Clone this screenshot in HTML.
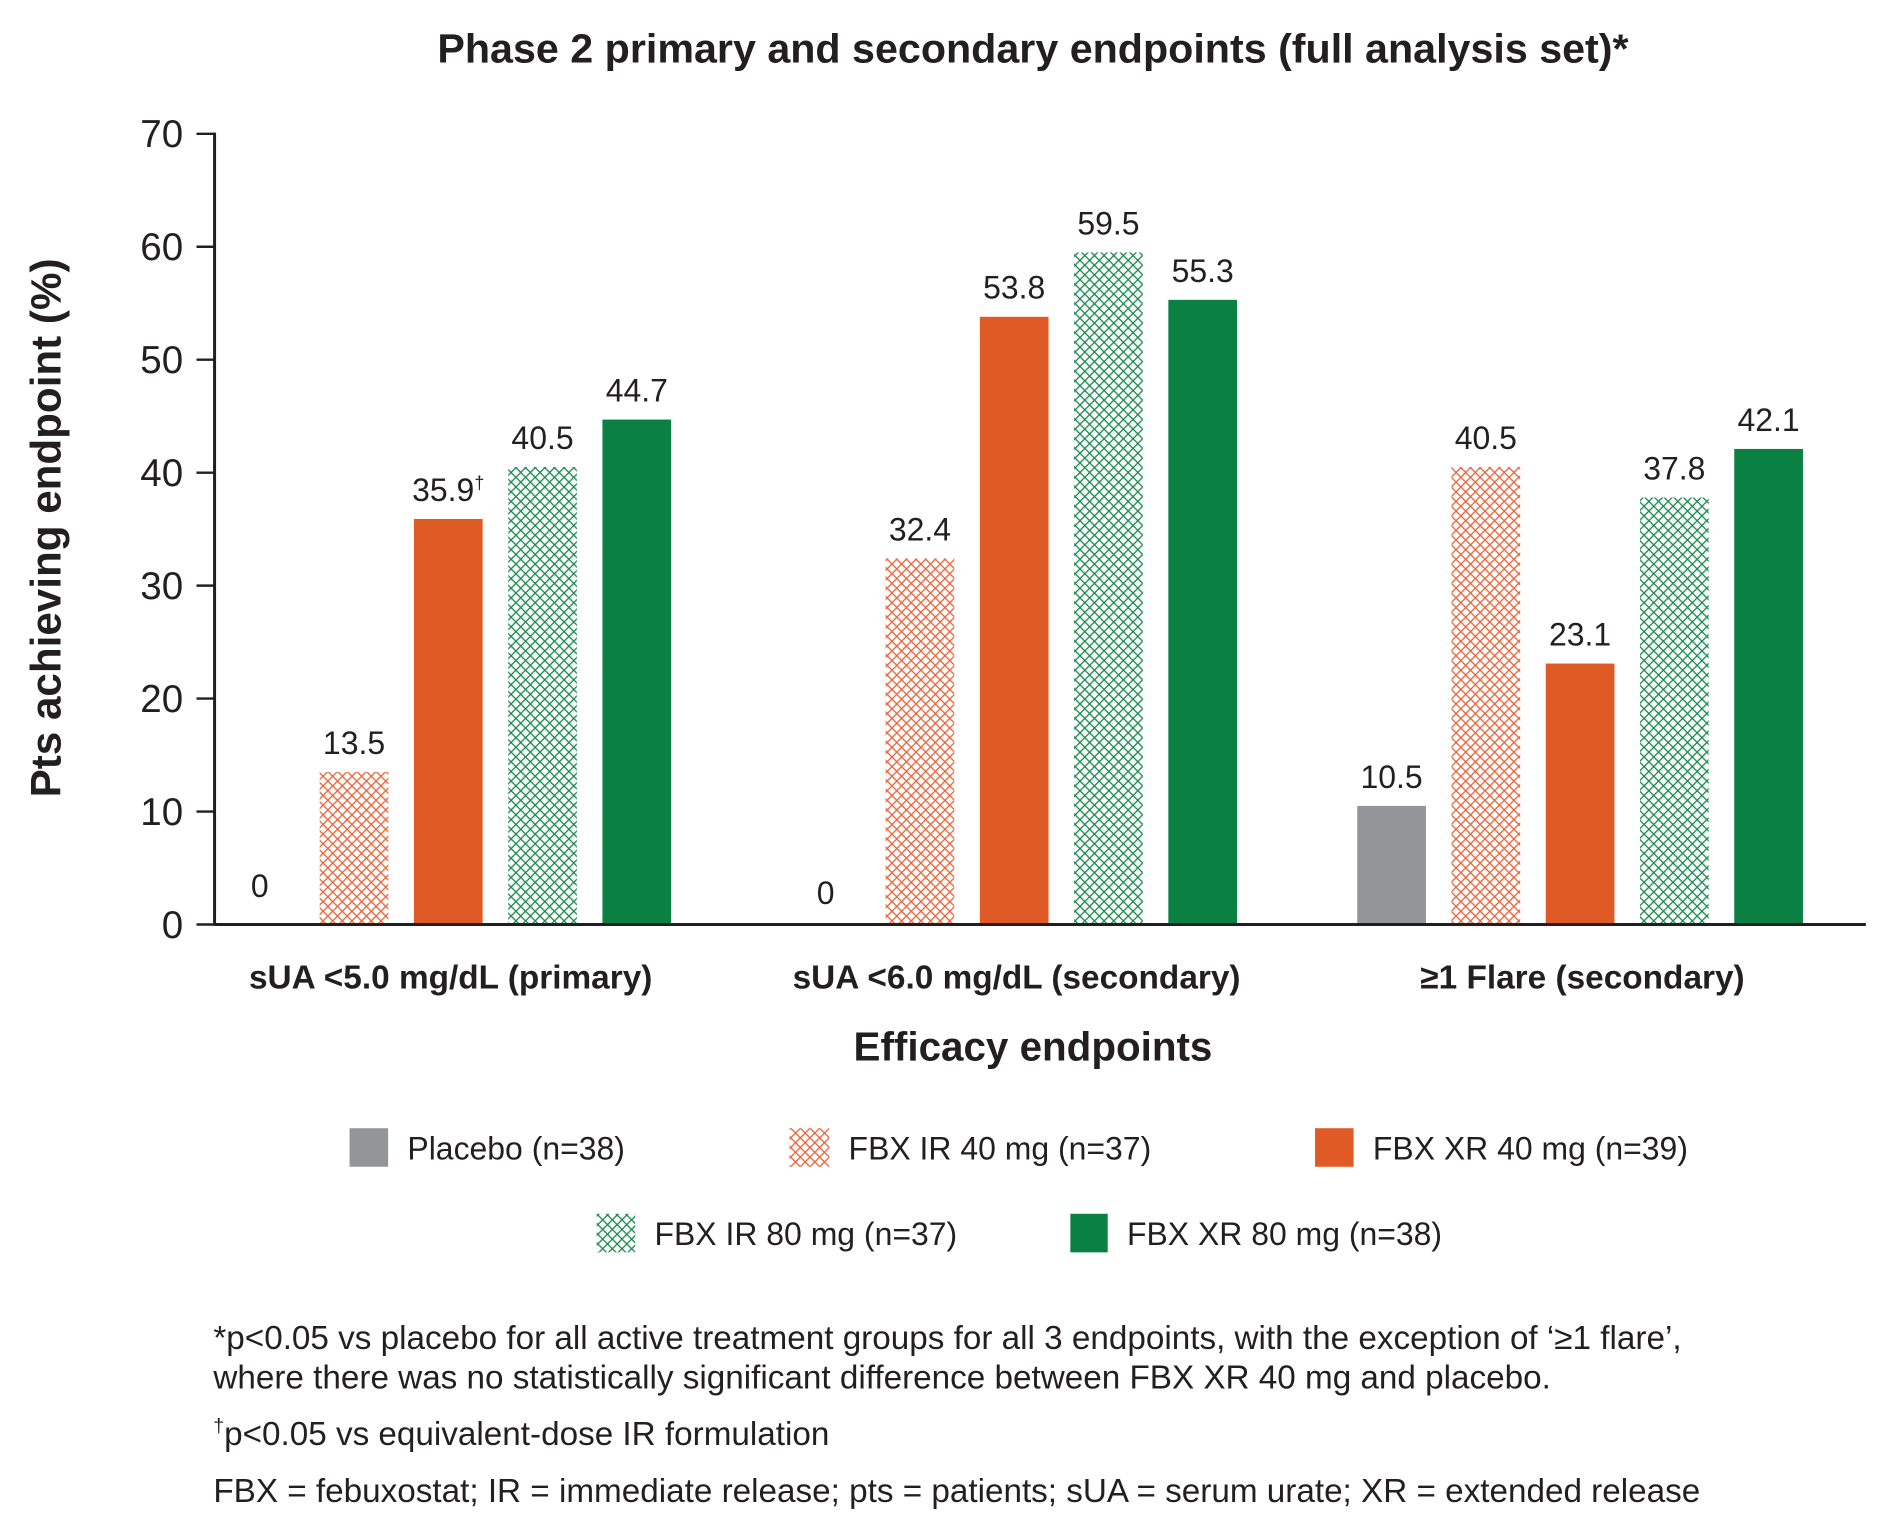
<!DOCTYPE html>
<html><head><meta charset="utf-8"><style>html,body{margin:0;padding:0;background:#fff}svg{display:block}</style></head>
<body>
<svg id="chart" width="1890" height="1535" viewBox="0 0 1568 1273.5" xmlns="http://www.w3.org/2000/svg" font-family="'Liberation Sans', Arial, sans-serif">
<defs>
<pattern id="hatchO" width="8" height="8" patternUnits="userSpaceOnUse"><path d="M0,0L8,8M8,0L0,8" stroke="#E8643A" stroke-width="1.1"/></pattern>
<pattern id="hatchG" width="8" height="8" patternUnits="userSpaceOnUse"><path d="M0,0L8,8M8,0L0,8" stroke="#1A8A4E" stroke-width="1.1"/></pattern>
</defs>
<text x="857" y="52" text-anchor="middle" font-size="34.2" font-weight="bold" fill="#231f20">Phase 2 primary and secondary endpoints (full analysis set)*</text>
<text transform="translate(50,438) rotate(-90)" text-anchor="middle" font-size="35" font-weight="bold" fill="#231f20">Pts achieving endpoint (%)</text>
<g id="yaxis"></g>
<g id="bars"></g>
<line x1="178" y1="767" x2="1548" y2="767" stroke="#231f20" stroke-width="2.5"/>
<line x1="178" y1="110" x2="178" y2="768" stroke="#231f20" stroke-width="2.5"/>
<g id="cats"></g>
<text x="857" y="880" text-anchor="middle" font-size="33.5" font-weight="bold" fill="#231f20">Efficacy endpoints</text>
<g font-size="26.5" fill="#231f20">
<g><rect x="290" y="936" width="32" height="32" fill="#939598"/><text x="338" y="962">Placebo (n=38)</text></g>
<g><rect x="655" y="936" width="33" height="32" fill="url(#hatchO)"/><text x="704" y="962">FBX IR 40 mg (n=37)</text></g>
<g><rect x="1091" y="936" width="32" height="32" fill="#E05A26"/><text x="1139" y="962">FBX XR 40 mg (n=39)</text></g>
<g><rect x="495" y="1007" width="32" height="32" fill="url(#hatchG)"/><text x="543" y="1033">FBX IR 80 mg (n=37)</text></g>
<g><rect x="888" y="1007" width="31" height="32" fill="#0A8043"/><text x="935" y="1033">FBX XR 80 mg (n=38)</text></g>
</g>
<g font-size="27.6" fill="#231f20">
<text x="177" y="1119">*p&lt;0.05 vs placebo for all active treatment groups for all 3 endpoints, with the exception of ‘≥1 flare’,</text>
<text x="177" y="1152">where there was no statistically significant difference between FBX XR 40 mg and placebo.</text>
<text x="177" y="1199"><tspan font-size="16" dy="-11">†</tspan><tspan dy="11">p&lt;0.05 vs equivalent-dose IR formulation</tspan></text>
<text x="177" y="1246">FBX = febuxostat; IR = immediate release; pts = patients; sUA = serum urate; XR = extended release</text>
</g>
</svg>
<script>
const categories = ["sUA <5.0 mg/dL (primary)", "sUA <6.0 mg/dL (secondary)", "≥1 Flare (secondary)"];
const seriesNames = ["placebo", "fbx-ir-40", "fbx-xr-40", "fbx-ir-80", "fbx-xr-80"];
const placebo = [0, 0, 10.5];
const fbxIr40 = [13.5, 32.4, 40.5];
const fbxXr40 = [35.9, 53.8, 23.1];
const fbxIr80 = [40.5, 59.5, 37.8];
const fbxXr80 = [44.7, 55.3, 42.1];
const valueLabels = [["0","0","10.5"],["13.5","32.4","40.5"],["35.9","53.8","23.1"],["40.5","59.5","37.8"],["44.7","55.3","42.1"]];
const daggers = [[false,false,false],[false,false,false],[true,false,false],[false,false,false],[false,false,false]];
const yTicks = [0,10,20,30,40,50,60,70];

const NS = "http://www.w3.org/2000/svg";
const Y0 = 767, YTOP = 111, YMAX = 70;
function yScale(v){ return Y0 - (v / YMAX) * (Y0 - YTOP); }
const GROUP_START = 187, GROUP_STEP = 469.5, BAR_STEP = 78.2, BAR_W = 57;
function xScale(g, s){ return GROUP_START + g * GROUP_STEP + s * BAR_STEP; }
const fills = ["#939598", "url(#hatchO)", "#E05A26", "url(#hatchG)", "#0A8043"];
const allSeries = [placebo, fbxIr40, fbxXr40, fbxIr80, fbxXr80];

const yg = document.getElementById('yaxis');
yTicks.forEach(t => {
  const y = yScale(t);
  const ln = document.createElementNS(NS, 'line');
  ln.setAttribute('x1', 163); ln.setAttribute('x2', 178); ln.setAttribute('y1', y); ln.setAttribute('y2', y);
  ln.setAttribute('stroke', '#231f20'); ln.setAttribute('stroke-width', 2);
  
  
  yg.appendChild(ln);
  const tx = document.createElementNS(NS, 'text');
  tx.setAttribute('x', 152); tx.setAttribute('y', y + 11); tx.setAttribute('text-anchor', 'end');
  tx.setAttribute('font-size', 32); tx.setAttribute('fill', '#231f20');
  tx.textContent = t;
  
  
  yg.appendChild(tx);
});

const bg = document.getElementById('bars');
allSeries.forEach((series, s) => {
  series.forEach((v, g) => {
    const x = xScale(g, s), y = yScale(v);
    if (v > 0) {
      const r = document.createElementNS(NS, 'rect');
      r.setAttribute('x', x); r.setAttribute('y', y); r.setAttribute('width', BAR_W); r.setAttribute('height', Y0 - y);
      r.setAttribute('fill', fills[s]);
      
      
      bg.appendChild(r);
    }
    const t = document.createElementNS(NS, 'text');
    t.setAttribute('x', x + BAR_W / 2);
    t.setAttribute('y', v === 0 ? Y0 - 23 + g * 6 : y - 15);
    t.setAttribute('text-anchor', 'middle'); t.setAttribute('font-size', 26.5); t.setAttribute('fill', '#231f20');
    t.textContent = valueLabels[s][g];
    if (daggers[s][g]) {
      const d = document.createElementNS(NS, 'tspan');
      d.setAttribute('font-size', 15); d.setAttribute('dy', -10);
      d.textContent = '†';
      t.appendChild(d);
    }
    
    
    bg.appendChild(t);
  });
});

const cg = document.getElementById('cats');
categories.forEach((c, g) => {
  const t = document.createElementNS(NS, 'text');
  t.setAttribute('x', xScale(g, 2) + BAR_W / 2 + 2);
  t.setAttribute('y', 820); t.setAttribute('text-anchor', 'middle');
  t.setAttribute('font-size', 27.7); t.setAttribute('font-weight', 'bold'); t.setAttribute('fill', '#231f20');
  t.textContent = c;
  
  
  cg.appendChild(t);
});
</script>
</body></html>
